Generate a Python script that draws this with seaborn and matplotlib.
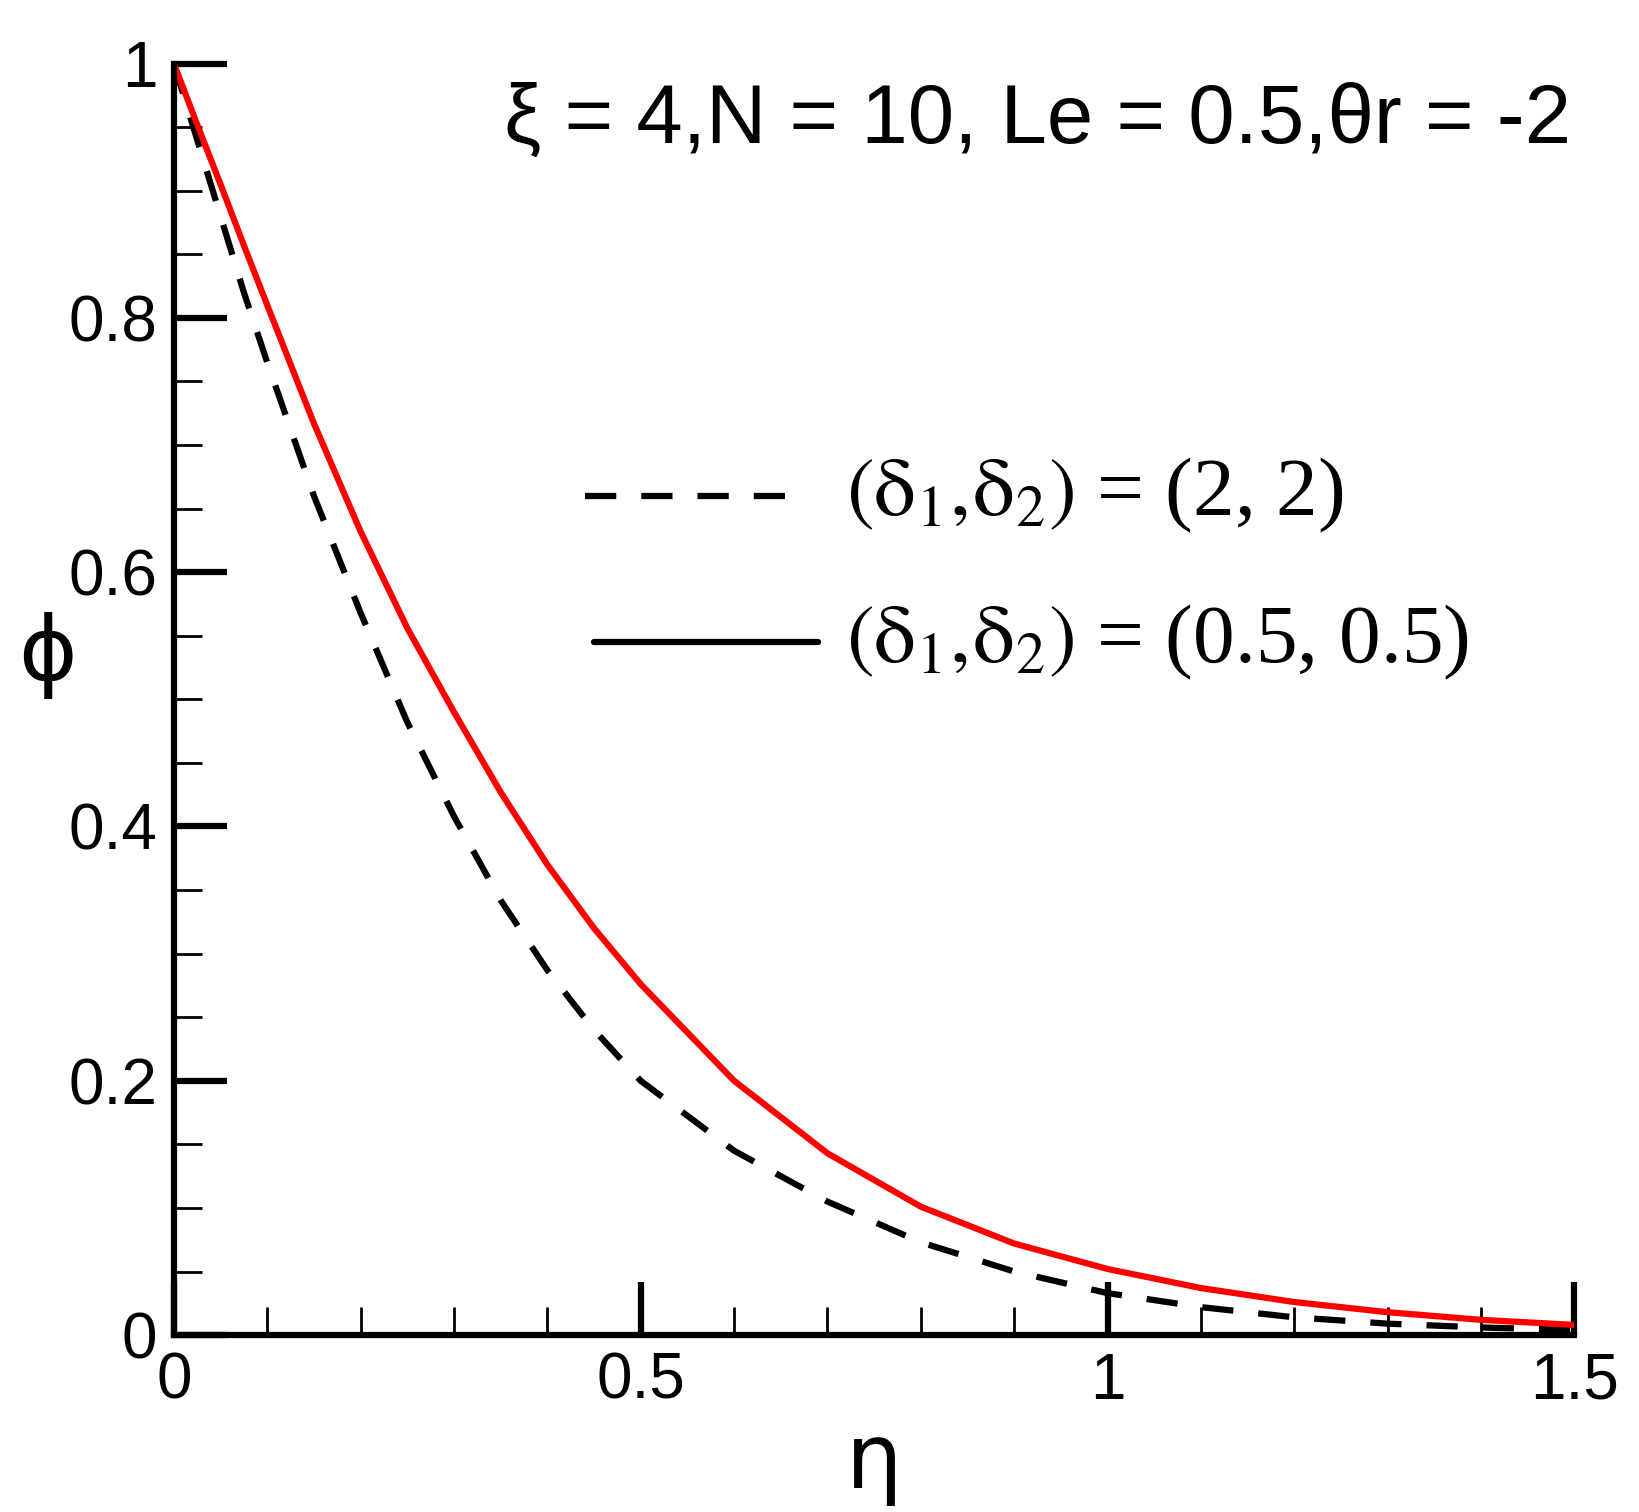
import numpy as np
import pandas as pd
import matplotlib
matplotlib.use("Agg")
import matplotlib.pyplot as plt
import seaborn as sns
from matplotlib.ticker import MultipleLocator

eta = [0.0, 0.025, 0.05, 0.075, 0.1, 0.15, 0.2, 0.25, 0.3, 0.35, 0.4, 0.45, 0.5, 0.6, 0.7, 0.8, 0.9, 1.0, 1.1, 1.2, 1.3, 1.4, 1.5]
phi_22 = [1.0, 0.94, 0.88, 0.82, 0.765, 0.66, 0.568, 0.482, 0.408, 0.342, 0.287, 0.240, 0.200, 0.145, 0.105, 0.073, 0.050, 0.033, 0.022, 0.014, 0.009, 0.006, 0.004]
phi_05 = [1.0, 0.952, 0.905, 0.857, 0.81, 0.717, 0.632, 0.556, 0.490, 0.427, 0.370, 0.320, 0.276, 0.200, 0.143, 0.101, 0.072, 0.052, 0.037, 0.026, 0.018, 0.012, 0.008]

sns.set_style("ticks")
plt.rcParams["font.family"] = ["Liberation Sans", "DejaVu Sans"]
plt.rcParams["mathtext.fontset"] = "stix"
plt.rcParams["text.color"] = "black"
plt.rcParams["axes.labelcolor"] = "black"
plt.rcParams["xtick.color"] = "black"
plt.rcParams["ytick.color"] = "black"
plt.rcParams["axes.edgecolor"] = "black"

fig = plt.figure(figsize=(16.4, 15.12), dpi=100)
ax = fig.add_axes([0.106, 0.117, 0.854, 0.841])

df = pd.DataFrame({"eta": eta * 2, "phi": phi_22 + phi_05,
                   "case": ["a"] * len(eta) + ["b"] * len(eta)})
sns.lineplot(data=df[df.case == "a"], x="eta", y="phi", color="black", lw=4.5,
             linestyle=(0, (5, 4)), ax=ax, legend=False)
sns.lineplot(data=df[df.case == "b"], x="eta", y="phi", color="red", lw=4.5, ax=ax, legend=False)

ax.set_xlim(0, 1.5)
ax.set_ylim(0, 1)
for s in ["top", "right"]:
    ax.spines[s].set_visible(False)
for s in ["left", "bottom"]:
    ax.spines[s].set_linewidth(4.5)
ax.xaxis.set_minor_locator(MultipleLocator(0.1))
ax.yaxis.set_minor_locator(MultipleLocator(0.05))
ax.set_xticks([0, 0.5, 1, 1.5])
ax.set_xticklabels(["0", "0.5", "1", "1.5"])
ax.set_yticks([0, 0.2, 0.4, 0.6, 0.8, 1])
ax.set_yticklabels(["0", "0.2", "0.4", "0.6", "0.8", "1"])
ax.tick_params(which="major", direction="in", length=38, width=4.5, labelsize=46, pad=12)
ax.tick_params(which="minor", direction="in", length=20, width=2)
ax.set_xlabel("η", fontsize=64, family="DejaVu Sans", labelpad=5)
ax.set_ylabel("ϕ", fontsize=64, family="DejaVu Sans", rotation=0)
ax.yaxis.set_label_coords(-0.09, 0.5)

ax.text(0.998, 0.955, "ξ = 4,N = 10, Le = 0.5,θr = -2", transform=ax.transAxes,
        ha="right", va="center", fontsize=60, family=["Liberation Sans", "DejaVu Sans"])

# legend
ax.plot([0.44, 0.68], [0.66, 0.66], color="black", lw=4.5, linestyle=(0, (5, 4)))
ax.plot([0.45, 0.69], [0.545, 0.545], color="black", lw=4.5)
ax.text(0.72, 0.66, r"$(\mathrm{\delta_1,\!\delta_2})$ = (2, 2)", fontsize=60, va="center",
        family="Liberation Serif")
ax.text(0.72, 0.545, r"$(\mathrm{\delta_1,\!\delta_2})$ = (0.5, 0.5)", fontsize=60, va="center",
        family="Liberation Serif")

fig.savefig("out.png", dpi=100)
